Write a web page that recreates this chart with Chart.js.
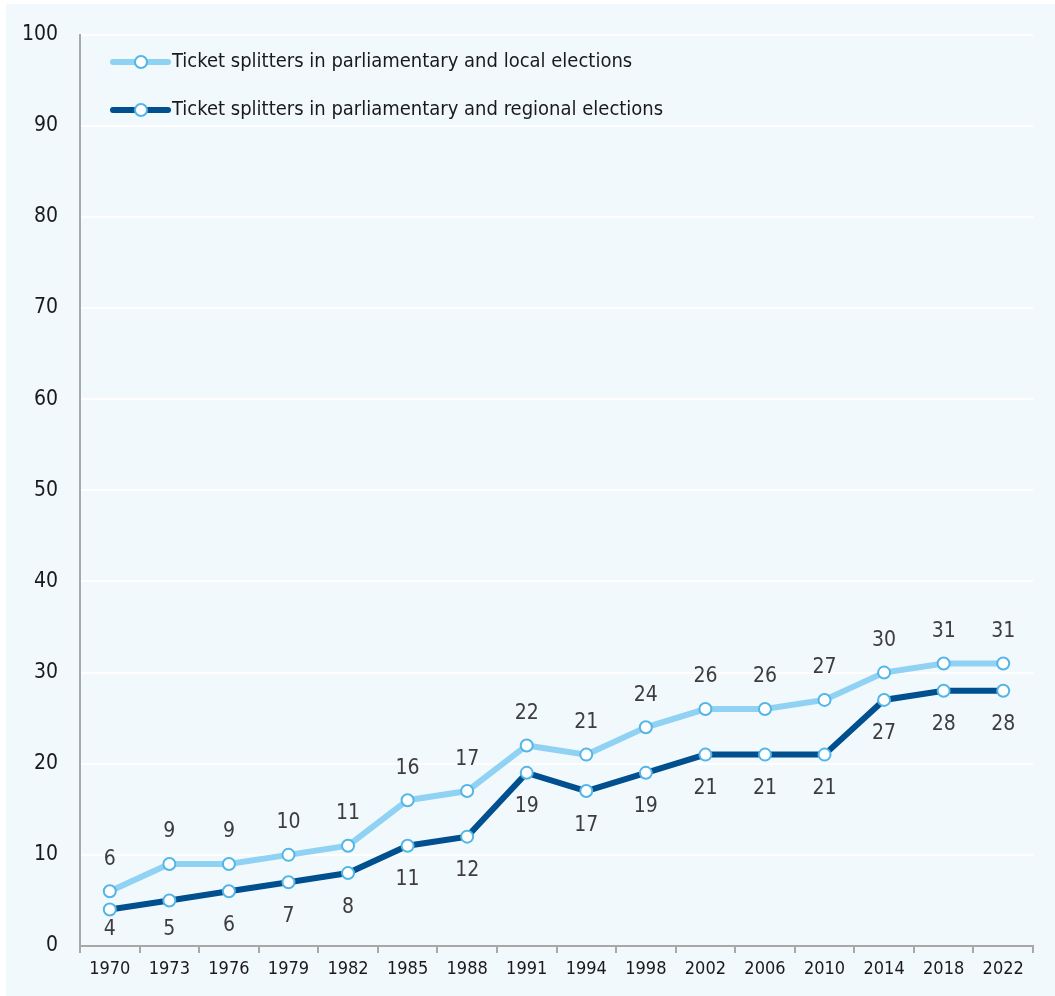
<!DOCTYPE html>
<html>
<head>
<meta charset="utf-8">
<title>Ticket splitters</title>
<script src="https://cdn.jsdelivr.net/npm/chart.js@4.4.0/dist/chart.umd.min.js"></script>
<style>
  html, body { margin: 0; padding: 0; background: #ffffff; }
  #splitChart { display: block; }
</style>
</head>
<body>
<canvas id="splitChart" width="1055" height="996"></canvas>
<script>
// Jahre der Wahlen und Anteile der Stimmensplitter (in %)
const years = ['1970', '1973', '1976', '1979', '1982', '1985', '1988', '1991',
               '1994', '1998', '2002', '2006', '2010', '2014', '2018', '2022'];
const localSplitters = [6, 9, 9, 10, 11, 16, 17, 22, 21, 24, 26, 26, 27, 30, 31, 31];
const regionalSplitters = [4, 5, 6, 7, 8, 11, 12, 19, 17, 19, 21, 21, 21, 27, 28, 28];
const seriesNames = [
    'Ticket splitters in parliamentary and local elections',
    'Ticket splitters in parliamentary and regional elections'
];
const yMin = 0;
const yMax = 100;
const yStep = 10;

const FONT = '"Liberation Sans Narrow", "DejaVu Sans Condensed", "Liberation Sans", sans-serif';
const LIGHT = '#8fd2f3';
const DARK = '#004f8f';
const MARKER_BORDER = '#52b6e8';

// Hintergrund: weisser Rand oben/links, hellblaue Fläche
const backgroundPlugin = {
    id: 'panelBackground',
    beforeDraw(chart) {
        const { ctx, width, height } = chart;
        ctx.save();
        ctx.fillStyle = '#ffffff';
        ctx.fillRect(0, 0, width, height);
        ctx.fillStyle = '#f1f9fd';
        ctx.fillRect(6, 4, width - 6, height - 4);
        ctx.restore();
    }
};

// Werte über bzw. unter den Punkten
const valueLabelPlugin = {
    id: 'valueLabels',
    afterDatasetsDraw(chart) {
        const { ctx, chartArea } = chart;
        ctx.save();
        ctx.font = '21px ' + FONT;
        ctx.fillStyle = '#3d3d3d';
        ctx.textAlign = 'center';
        ctx.textBaseline = 'middle';
        chart.data.datasets.forEach((ds, i) => {
            const meta = chart.getDatasetMeta(i);
            meta.data.forEach((pt, j) => {
                let y;
                if (i === 0) {
                    y = pt.y - 32;
                } else {
                    y = Math.min(pt.y + 34, chartArea.bottom - 16);
                }
                ctx.fillText(String(ds.data[j]), pt.x, y);
            });
        });
        ctx.restore();
    }
};

// Legende oben links im Diagrammbereich
const legendPlugin = {
    id: 'insideLegend',
    afterDraw(chart) {
        const { ctx } = chart;
        const x0 = 113, x1 = 168, cx = 141;
        const rows = [62, 110];
        ctx.save();
        chart.data.datasets.forEach((ds, i) => {
            const y = rows[i];
            ctx.strokeStyle = ds.borderColor;
            ctx.lineWidth = 6;
            ctx.lineCap = 'round';
            ctx.beginPath();
            ctx.moveTo(x0, y);
            ctx.lineTo(x1, y);
            ctx.stroke();
            ctx.beginPath();
            ctx.arc(cx, y, 6, 0, Math.PI * 2);
            ctx.fillStyle = '#ffffff';
            ctx.fill();
            ctx.lineWidth = 2;
            ctx.strokeStyle = MARKER_BORDER;
            ctx.stroke();
            ctx.font = '20px ' + FONT;
            ctx.fillStyle = '#1a1a1a';
            ctx.textAlign = 'left';
            ctx.textBaseline = 'middle';
            ctx.fillText(ds.label, 172, y);
        });
        ctx.restore();
    }
};

function makeSeries(label, values, color) {
    return {
        label: label,
        data: values,
        borderColor: color,
        backgroundColor: color,
        borderWidth: 6,
        tension: 0,
        pointRadius: 6,
        pointHoverRadius: 6,
        pointBorderWidth: 2,
        pointBorderColor: MARKER_BORDER,
        pointBackgroundColor: '#ffffff'
    };
}

function initializeChart(canvasId) {
    const el = document.getElementById(canvasId);
    if (!el) {
        console.error('Canvas nicht gefunden: ' + canvasId);
        return;
    }
    new Chart(el.getContext('2d'), {
        type: 'line',
        data: {
            labels: years,
            datasets: [
                makeSeries(seriesNames[0], localSplitters, LIGHT),
                makeSeries(seriesNames[1], regionalSplitters, DARK)
            ]
        },
        options: {
            responsive: false,
            animation: false,
            layout: { padding: { top: 33, right: 22, bottom: 0, left: 6 } },
            plugins: {
                legend: { display: false },
                tooltip: { enabled: false }
            },
            scales: {
                x: {
                    offset: true,
                    grid: {
                        offset: true,
                        drawOnChartArea: false,
                        drawTicks: true,
                        tickLength: 7,
                        color: '#a8a8a8',
                        lineWidth: 2
                    },
                    border: { display: true, color: '#a8a8a8', width: 2 },
                    ticks: {
                        color: '#1a1a1a',
                        font: { family: FONT, size: 18 },
                        padding: 6,
                        autoSkip: false,
                        maxRotation: 0
                    },
                    afterFit(scale) { scale.height = 50; }
                },
                y: {
                    min: yMin,
                    max: yMax,
                    grid: {
                        color: '#ffffff',
                        lineWidth: 2,
                        drawTicks: false
                    },
                    border: { display: true, color: '#a8a8a8', width: 2 },
                    ticks: {
                        stepSize: yStep,
                        color: '#1a1a1a',
                        font: { family: FONT, size: 21 },
                        padding: 22
                    },
                    afterFit(scale) { scale.width = 74; }
                }
            }
        },
        plugins: [backgroundPlugin, valueLabelPlugin, legendPlugin]
    });
}

document.addEventListener('DOMContentLoaded', () => {
    initializeChart('splitChart');
});
</script>
</body>
</html>
